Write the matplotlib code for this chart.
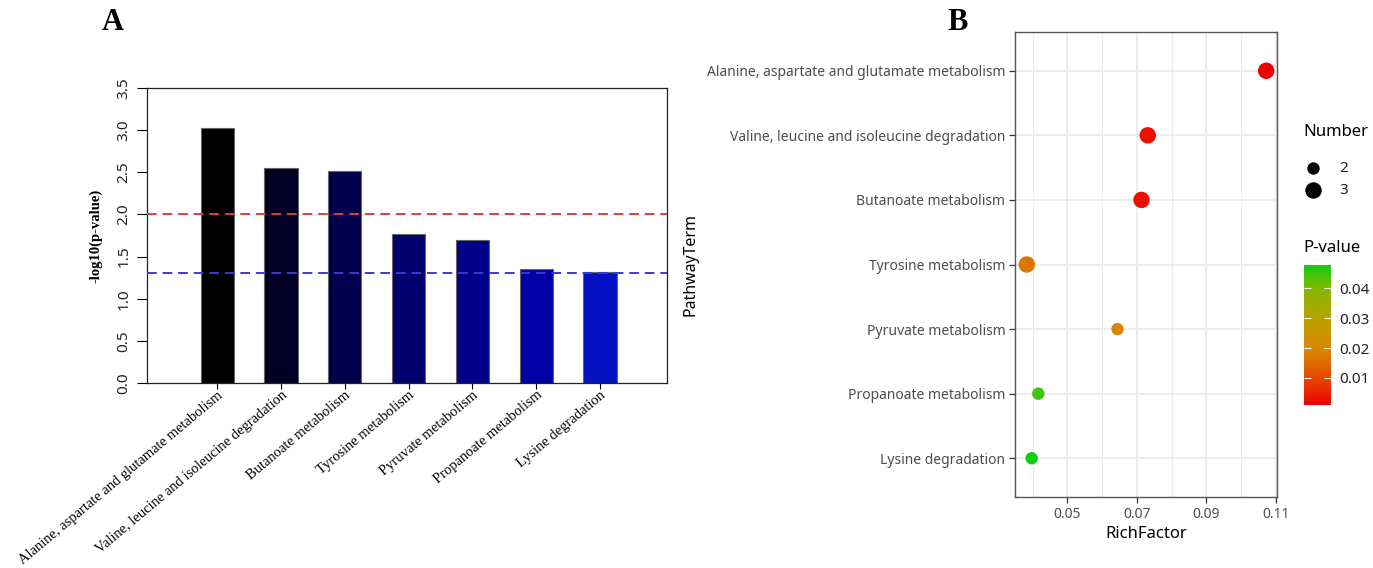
import numpy as np
import matplotlib
matplotlib.use("Agg")
import matplotlib.pyplot as plt
from matplotlib.colors import LinearSegmentedColormap, Normalize

# ---- data ----
pathways = [
    "Alanine, aspartate and glutamate metabolism",
    "Valine, leucine and isoleucine degradation",
    "Butanoate metabolism",
    "Tyrosine metabolism",
    "Pyruvate metabolism",
    "Propanoate metabolism",
    "Lysine degradation",
]
neg_log_p = [3.03, 2.55, 2.52, 1.77, 1.70, 1.35, 1.32]
rich_factor = [0.1072, 0.0731, 0.0713, 0.0383, 0.0644, 0.0416, 0.0397]
hit_number = [3, 3, 3, 3, 2, 2, 2]
bar_colors = ["#000000", "#010024", "#00004C", "#00006E", "#00008A",
              "#0000A6", "#0412C4"]
thresholds = [2.0, 1.3]
y_ticks_a = [0.0, 0.5, 1.0, 1.5, 2.0, 2.5, 3.0, 3.5]
x_ticks_b = [0.05, 0.07, 0.09, 0.11]
cbar_ticks = [0.01, 0.02, 0.03, 0.04]
legend_numbers = [2, 3]

p_values = [10 ** (-v) for v in neg_log_p]

# red -> orange -> green gradient for p-values
cmap = LinearSegmentedColormap.from_list(
    "p_grad",
    [(0.0, "#EE0000"), (0.19, "#E64800"), (0.40, "#D98800"),
     (0.62, "#B8A000"), (0.83, "#84B800"), (1.0, "#14CC14")])
norm = Normalize(vmin=min(p_values), vmax=max(p_values))

# ---- figure ----
W, H = 1373, 568
fig = plt.figure(figsize=(W / 100, H / 100), dpi=100)


def fx(px):
    return px / W


def fy(py):
    return 1 - py / H


serif = ["Liberation Serif", "DejaVu Serif"]
sans = ["Noto Sans", "DejaVu Sans"]

# ---- panel A: bar chart ----
ax_a = fig.add_axes([fx(147), fy(383), fx(667) - fx(147), fy(88) - fy(383)])
xpos = np.arange(len(pathways))
ax_a.bar(xpos, neg_log_p, width=0.52, color=bar_colors, edgecolor="#666666",
         linewidth=0.8, zorder=2)
ax_a.axhline(thresholds[0], color="#E8393A", ls=(0, (5, 3)), lw=1.4, zorder=3)
ax_a.axhline(thresholds[1], color="#3A3ACF", ls=(0, (5, 3)), lw=1.4, zorder=3)
ax_a.set_xlim(-1.1, len(pathways) - 1 + 1.05)
ax_a.set_ylim(0, 3.5)
ax_a.set_yticks(y_ticks_a)
ax_a.set_yticklabels([f"{v:.1f}" for v in y_ticks_a], rotation=90, va="center",
                     fontsize=11, family=sans, color="#222222")
ax_a.set_xticks(xpos)
ax_a.set_xticklabels(pathways, rotation=40, ha="right", va="top",
                     rotation_mode="anchor", fontsize=10.5, family=serif)
ax_a.tick_params(axis="y", direction="out", length=7, width=0.8, pad=4)
ax_a.tick_params(axis="x", direction="out", length=4, width=0.8, pad=0)
for s in ax_a.spines.values():
    s.set_linewidth(0.9)
    s.set_color("#222222")
ax_a.set_ylabel("-log10(p-value)", fontsize=10.5, family=serif,
                fontweight="bold", labelpad=10)

fig.text(fx(113), fy(22), "A", fontsize=22, family=serif, fontweight="bold",
         ha="center", va="center")
fig.text(fx(958), fy(22), "B", fontsize=22, family=serif, fontweight="bold",
         ha="center", va="center")

# ---- panel B: enrichment bubble plot ----
ax_b = fig.add_axes([fx(1015), fy(497), fx(1277) - fx(1015), fy(32) - fy(497)])
ypos = np.arange(len(pathways), 0, -1)
size_map = {2: 80, 3: 140}
sizes = [size_map[n] for n in hit_number]
ax_b.scatter(rich_factor, ypos, s=sizes, c=p_values, cmap=cmap, norm=norm,
             linewidths=0, zorder=3)
ax_b.set_xlim(0.0349, 0.1103)
ax_b.set_ylim(0.4, len(pathways) + 0.6)
ax_b.set_xticks(x_ticks_b)
ax_b.set_xticklabels([f"{v:.2f}" for v in x_ticks_b])
ax_b.set_xticks([0.04, 0.06, 0.08, 0.10], minor=True)
ax_b.set_yticks(ypos)
ax_b.set_yticklabels(pathways)
ax_b.set_axisbelow(True)
ax_b.grid(True, which="major", color="#EBEBEB", lw=1.3)
ax_b.grid(True, which="minor", axis="x", color="#EBEBEB", lw=0.8)
ax_b.tick_params(which="minor", length=0)
ax_b.tick_params(which="major", direction="out", length=4, width=0.9,
                 color="#333333", labelcolor="#4D4D4D", labelsize=10, pad=3)
for lab in ax_b.get_xticklabels() + ax_b.get_yticklabels():
    lab.set_family(sans)
for s in ax_b.spines.values():
    s.set_color("#555555")
    s.set_linewidth(1.0)
ax_b.set_xlabel("RichFactor", fontsize=12, family=sans, labelpad=3)
ax_b.set_ylabel("PathwayTerm", fontsize=11.5, family=sans, labelpad=6)

# ---- legends (drawn on a pixel-unit overlay) ----
ov = fig.add_axes([0, 0, 1, 1], zorder=5)
ov.set_xlim(0, W)
ov.set_ylim(H, 0)
ov.axis("off")
ov.text(1303, 132, "Number", fontsize=12, family=sans, ha="left", va="center")
for i, n in enumerate(legend_numbers):
    yy = 168 + 22 * i
    ov.scatter([1313], [yy], s=size_map[n], color="black", linewidths=0)
    ov.text(1339, yy, str(n), fontsize=11, family=sans, ha="left", va="center",
            color="#222222")
ov.text(1303, 248, "P-value", fontsize=12, family=sans, ha="left", va="center")

# colour bar
cax = fig.add_axes([fx(1304), fy(405), fx(1331) - fx(1304), fy(265) - fy(405)])
sm = plt.cm.ScalarMappable(norm=norm, cmap=cmap)
cb = fig.colorbar(sm, cax=cax, ticks=cbar_ticks)
cb.outline.set_visible(False)
cb.ax.set_yticklabels([f"{v:.2f}" for v in cbar_ticks])
cb.ax.tick_params(direction="in", length=5, color="white", width=0.8,
                  labelsize=11, labelcolor="#222222", pad=6, left=True)
for lab in cb.ax.get_yticklabels():
    lab.set_family(sans)

fig.savefig("out.png", dpi=100)
